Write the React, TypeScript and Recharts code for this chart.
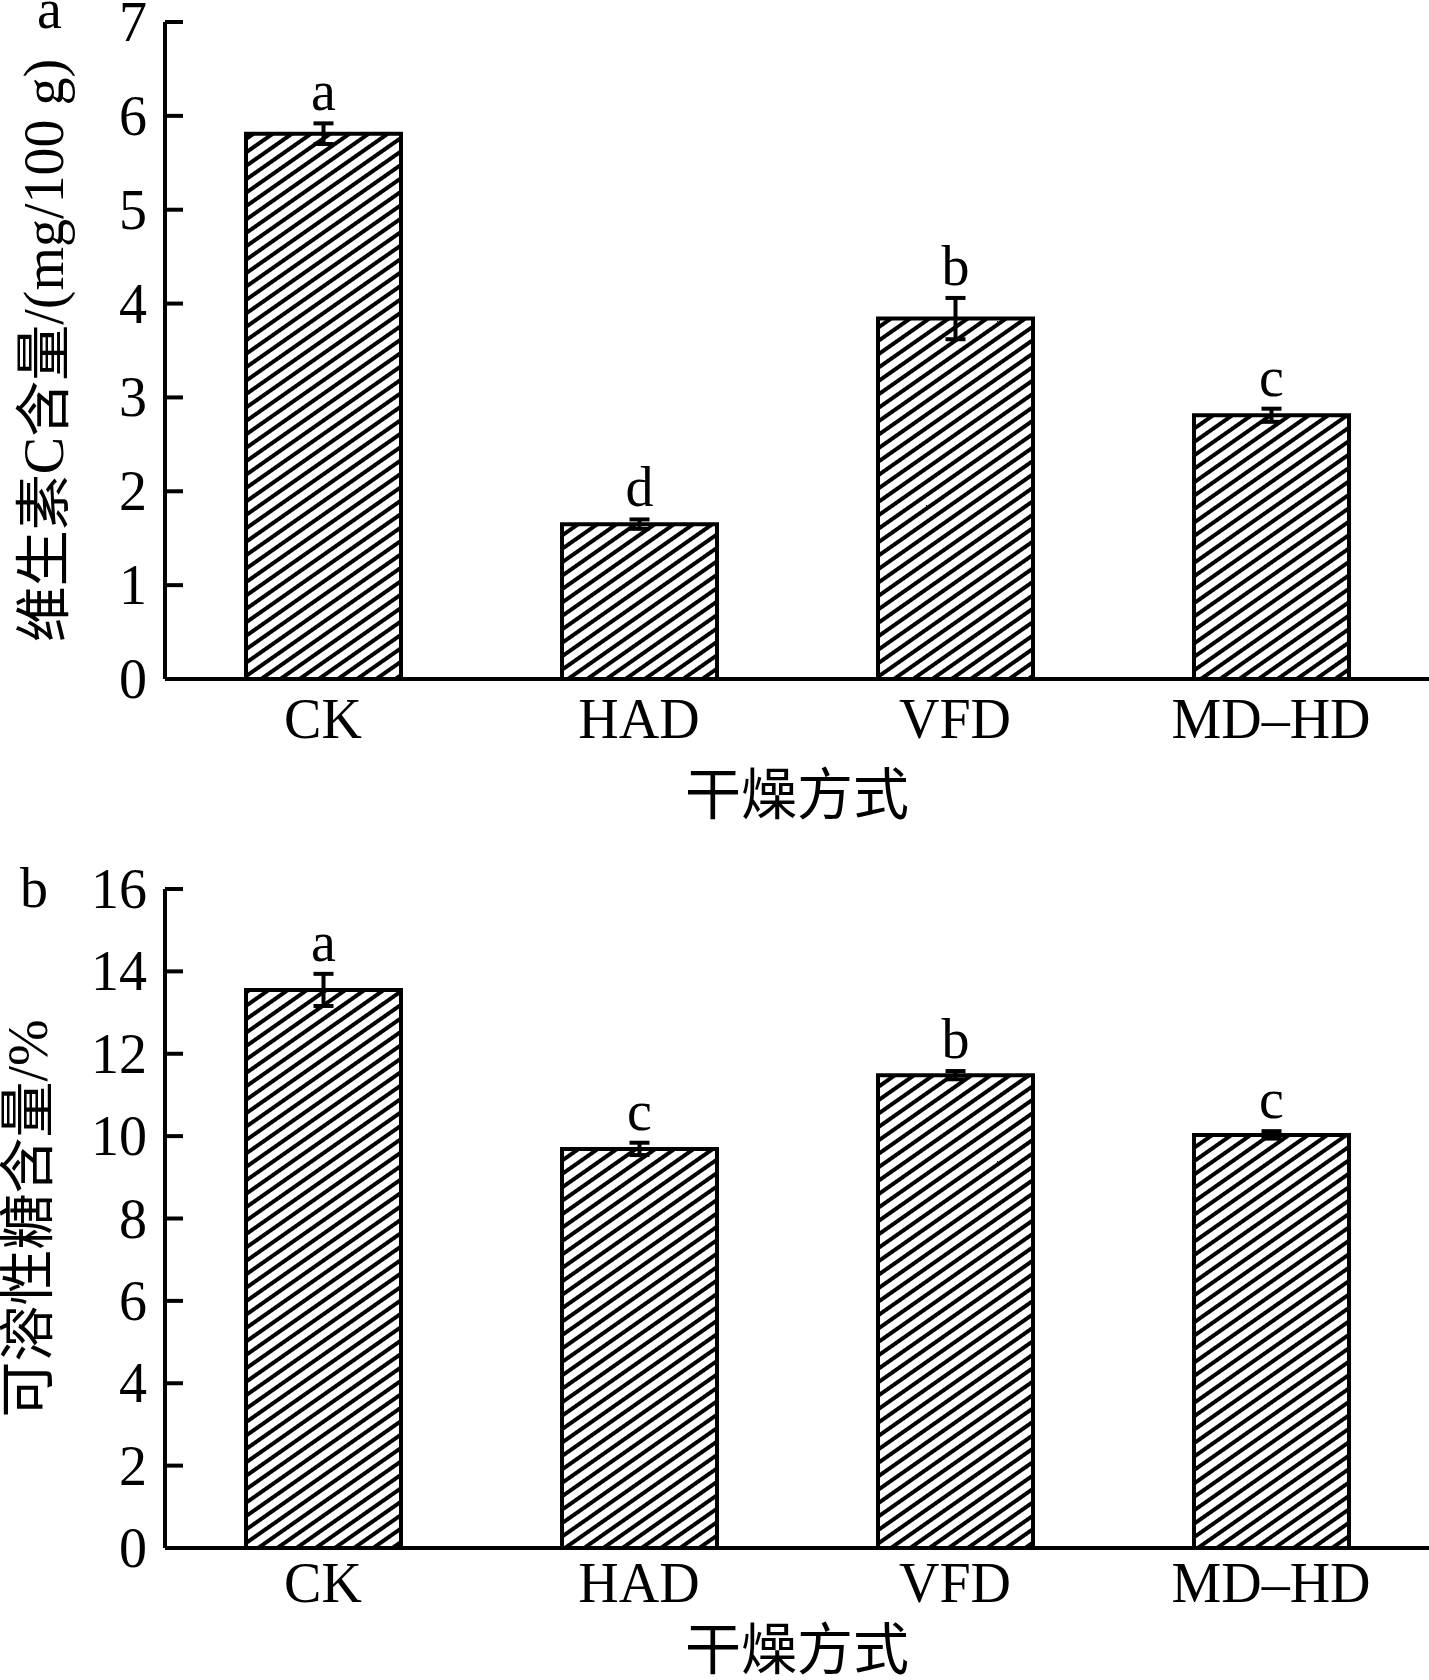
import React from "react";
import { Bar, BarChart, ErrorBar, Label, XAxis, YAxis } from "recharts";

const categories = ["CK", "HAD", "VFD", "MD–HD"];

// a: vitamin C (mg/100 g)
const vitC = [5.81, 1.65, 3.84, 2.81];
const vitCErr = [0.11, 0.05, 0.22, 0.07];
const vitCLetters = ["a", "d", "b", "c"];
const vitCTicks = [0, 1, 2, 3, 4, 5, 6, 7];

// b: soluble sugar (%)
const sugar = [13.55, 9.69, 11.48, 10.03];
const sugarErr = [0.39, 0.15, 0.1, 0.09];
const sugarLetters = ["a", "c", "b", "c"];
const sugarTicks = [0, 2, 4, 6, 8, 10, 12, 14, 16];

const FONT = "'Liberation Serif', 'Noto Sans CJK SC', serif";
const FS = 56;

const vitCData = categories.map((name, i) => ({
  name,
  value: vitC[i],
  err: vitCErr[i],
  letter: vitCLetters[i],
}));

const sugarData = categories.map((name, i) => ({
  name,
  value: sugar[i],
  err: sugarErr[i],
  letter: sugarLetters[i],
}));

// inward tick mark + label on the left
function YTick(props: any) {
  const { x, y, payload } = props;
  return (
    <g>
      <line x1={x} x2={x + 18} y1={y} y2={y} stroke="#000" strokeWidth={4} />
      <text
        x={x - 18}
        y={y}
        textAnchor="end"
        dominantBaseline="central"
        fontSize={FS}
        fontFamily={FONT}
        fill="#000"
      >
        {payload.value}
      </text>
    </g>
  );
}

function XTick(props: any) {
  const { x, y, payload, dy } = props;
  return (
    <text
      x={x}
      y={y + dy}
      textAnchor="middle"
      fontSize={FS}
      fontFamily={FONT}
      fill="#000"
    >
      {payload.value}
    </text>
  );
}

// significance letter, placed above the error bar
function Letter(props: any) {
  const { x, y, width, height, value, index, data } = props;
  if (!value) return null;
  const perUnit = height / value;
  const top = y - data[index].err * perUnit;
  return (
    <text
      x={x + width / 2}
      y={top - 13}
      textAnchor="middle"
      fontSize={FS}
      fontFamily={FONT}
      fill="#000"
    >
      {data[index].letter}
    </text>
  );
}

function Panel(props: any) {
  const { data, ticks, yLabel, yLabelX, id, top, height, marginTop, xHeight, tickDy, xLabelDy } =
    props;
  return (
    <div style={{ position: "absolute", left: 0, top, width: 1429, height }}>
      <BarChart
        width={1429}
        height={height}
        data={data}
        margin={{ top: marginTop, right: 0, left: 0, bottom: 0 }}
      >
        <defs>
          <pattern
            id={id}
            patternUnits="userSpaceOnUse"
            width={10}
            height={11}
            patternTransform="rotate(-35)"
          >
            <rect x={0} y={0} width={10} height={11} fill="#fff" />
            <rect x={0} y={0} width={10} height={4} fill="#000" />
          </pattern>
        </defs>
        <XAxis
          dataKey="name"
          height={xHeight}
          axisLine={{ stroke: "#000", strokeWidth: 4 }}
          tickLine={false}
          tickSize={0}
          tickMargin={0}
          interval={0}
          tick={(p: any) => <XTick {...p} dy={tickDy} />}
          label={
            <Label
              content={(p: any) => {
                const vb = p.viewBox;
                return (
                  <text
                    x={vb.x + vb.width / 2}
                    y={vb.y + xLabelDy}
                    textAnchor="middle"
                    dominantBaseline="central"
                    fontSize={FS}
                    fontFamily={FONT}
                    fill="#000"
                  >
                    干燥方式
                  </text>
                );
              }}
            />
          }
        />
        <YAxis
          width={165}
          domain={[ticks[0], ticks[ticks.length - 1]]}
          ticks={ticks}
          interval={0}
          allowDataOverflow
          axisLine={{ stroke: "#000", strokeWidth: 4 }}
          tickLine={false}
          tickSize={0}
          tickMargin={0}
          tick={<YTick />}
          label={
            <Label
              content={(p: any) => {
                const vb = p.viewBox;
                const cy = vb.y + vb.height / 2;
                return (
                  <text
                    x={yLabelX}
                    y={cy}
                    transform={`rotate(-90 ${yLabelX} ${cy})`}
                    textAnchor="middle"
                    dominantBaseline="central"
                    fontSize={FS}
                    fontFamily={FONT}
                    fill="#000"
                  >
                    {yLabel}
                  </text>
                );
              }}
            />
          }
        />
        <Bar
          dataKey="value"
          barSize={155}
          fill={`url(#${id})`}
          stroke="#000"
          strokeWidth={4}
          isAnimationActive={false}
          label={(p: any) => <Letter {...p} data={data} />}
        >
          <ErrorBar dataKey="err" width={10} stroke="#000" strokeWidth={4} />
        </Bar>
      </BarChart>
    </div>
  );
}

export default function App() {
  return (
    <div
      style={{
        position: "absolute",
        left: 0,
        top: 0,
        width: 1429,
        height: 1680,
        background: "#fff",
        overflow: "hidden",
        fontFamily: FONT,
      }}
    >
      <Panel
        id="hatchA"
        data={vitCData}
        ticks={vitCTicks}
        yLabel="维生素C含量/(mg/100 g)"
        yLabelX={44}
        top={0}
        height={840}
        marginTop={22}
        xHeight={161}
        tickDy={59}
        xLabelDy={116}
      />
      <Panel
        id="hatchB"
        data={sugarData}
        ticks={sugarTicks}
        yLabel="可溶性糖含量/%"
        yLabelX={28}
        top={840}
        height={840}
        marginTop={49}
        xHeight={132}
        tickDy={54}
        xLabelDy={102}
      />
      <svg
        width={1429}
        height={1680}
        style={{ position: "absolute", left: 0, top: 0, pointerEvents: "none" }}
      >
        <text x={37} y={28} fontSize={FS} fontFamily={FONT} fill="#000">
          a
        </text>
        <text x={20} y={907} fontSize={FS} fontFamily={FONT} fill="#000">
          b
        </text>
      </svg>
    </div>
  );
}
